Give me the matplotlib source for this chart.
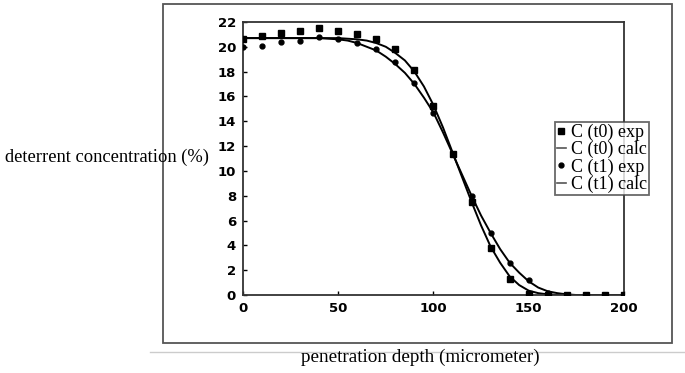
import numpy as np
import matplotlib
matplotlib.use("Agg")
import matplotlib.pyplot as plt
from matplotlib.lines import Line2D
from matplotlib.patches import Rectangle

# measured points (every 10 micrometer)
depth_exp = [0, 10, 20, 30, 40, 50, 60, 70, 80, 90, 100, 110, 120, 130, 140,
             150, 160, 170, 180, 190, 200]
c_t0_exp = [20.6, 20.9, 21.1, 21.3, 21.5, 21.3, 21.0, 20.6, 19.8, 18.1, 15.25,
            11.4, 7.5, 3.8, 1.3, 0.1, 0.0, 0.0, 0.0, 0.0, 0.0]
c_t1_exp = [20.0, 20.1, 20.4, 20.5, 20.8, 20.6, 20.3, 19.8, 18.8, 17.06, 14.7,
            11.4, 7.97, 5.0, 2.6, 1.2, 0.2, 0.0, 0.0, 0.0, 0.0]

# calculated curves (every 5 micrometer)
depth_calc = list(range(0, 205, 5))
c_t0_calc = [20.7, 20.7, 20.7, 20.7, 20.7, 20.7, 20.7, 20.7, 20.7, 20.7, 20.7,
             20.65, 20.6, 20.5, 20.3, 20.0, 19.5, 18.9, 18.0, 16.8, 15.3,
             13.5, 11.5, 9.5, 7.5, 5.6, 3.9, 2.6, 1.5, 0.8, 0.35, 0.15, 0.05,
             0.0, 0.0, 0.0, 0.0, 0.0, 0.0, 0.0, 0.0]
c_t1_calc = [20.7, 20.7, 20.7, 20.7, 20.7, 20.7, 20.7, 20.7, 20.7, 20.65, 20.6,
             20.5, 20.3, 20.0, 19.7, 19.2, 18.6, 17.9, 17.0, 15.9, 14.7,
             13.1, 11.4, 9.7, 8.0, 6.4, 5.0, 3.7, 2.6, 1.8, 1.1, 0.6, 0.3,
             0.15, 0.05, 0.0, 0.0, 0.0, 0.0, 0.0, 0.0]

fig = plt.figure(figsize=(6.85, 3.73), dpi=100)
ax = fig.add_axes([0.3547, 0.2091, 0.5562, 0.732])

ax.plot(depth_calc, c_t0_calc, color="black", lw=1.4, zorder=2)
ax.plot(depth_calc, c_t1_calc, color="black", lw=1.4, zorder=2)
ax.plot(depth_exp, c_t0_exp, ls="none", marker="s", ms=4.5, color="black", zorder=3)
ax.plot(depth_exp, c_t1_exp, ls="none", marker="o", ms=3.5, color="black", zorder=3)

ax.set_xlim(0, 200)
ax.set_ylim(0, 22)
ax.set_xticks([0, 50, 100, 150, 200])
ax.set_yticks(range(0, 23, 2))
ax.tick_params(direction="in", length=3, width=1, labelsize=9.5, pad=5)
for lab in ax.get_xticklabels() + ax.get_yticklabels():
    lab.set_fontweight("heavy")
for s in ax.spines.values():
    s.set_linewidth(1.3)
    s.set_color("#333333")

# legend
handles = [
    Line2D([], [], ls="none", marker="s", ms=4, color="black"),
    Line2D([], [], color="#555555", lw=1.2),
    Line2D([], [], ls="none", marker="o", ms=3.5, color="black"),
    Line2D([], [], color="#555555", lw=1.2),
]
labels = ["C (t0) exp", "C (t0) calc", "C (t1) exp", "C (t1) calc"]
leg = ax.legend(handles, labels, loc="upper left", bbox_to_anchor=(0.819, 0.634),
                prop={"family": "Liberation Serif", "size": 13},
                frameon=True, fancybox=False, handlelength=0.5,
                handletextpad=0.3, borderpad=0.1, labelspacing=0.0,
                borderaxespad=0)
leg.get_frame().set_edgecolor("#444444")
leg.get_frame().set_linewidth(1.3)

# axis labels
fig.text(0.008, 0.579, "deterrent concentration (%)", ha="left", va="center",
         fontsize=13.3, family="Liberation Serif")
fig.text(0.613, 0.043, "penetration depth (micrometer)", ha="center",
         va="center", fontsize=13.8, family="Liberation Serif")

# outer frame and rule line from the scanned figure
fig.patches.append(Rectangle((0.238, 0.0804), 0.743, 0.909, transform=fig.transFigure,
                             fill=False, edgecolor="#555555", lw=1.3))
fig.lines.append(Line2D([0.219, 1.0], [0.0563, 0.0563], transform=fig.transFigure,
                        color="#cccccc", lw=1))

fig.savefig("out.png", dpi=100)
